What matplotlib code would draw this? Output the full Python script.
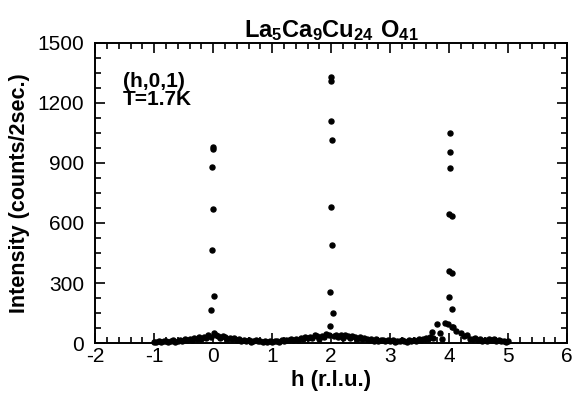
import matplotlib
matplotlib.use("Agg")
import matplotlib.pyplot as plt
from matplotlib.ticker import MultipleLocator

plt.rcParams['font.family'] = ['Liberation Sans', 'DejaVu Sans']
plt.rcParams['mathtext.fontset'] = 'custom'
plt.rcParams['mathtext.bf'] = 'Liberation Sans:bold'
plt.rcParams['mathtext.rm'] = 'Liberation Sans'
plt.rcParams['axes.unicode_minus'] = False

# --- background of the h-scan ---
bg_h = [-1.00, -0.96, -0.92, -0.88, -0.84, -0.80, -0.76, -0.72, -0.68, -0.64,
        -0.60, -0.56, -0.52, -0.48, -0.44, -0.40, -0.36, -0.32,
        -0.28, -0.24, -0.20, -0.16, -0.12, -0.08, -0.04, 0.04, 0.08, 0.12,
        0.16, 0.20, 0.24, 0.28,
        0.32, 0.36, 0.40, 0.44, 0.48, 0.52, 0.56, 0.60, 0.64, 0.68,
        0.72, 0.76, 0.80, 0.84, 0.88, 0.92, 0.96, 1.00,
        1.04, 1.08, 1.12, 1.16, 1.20, 1.24, 1.28, 1.32, 1.36, 1.40,
        1.44, 1.48, 1.52, 1.56, 1.60,
        1.64, 1.68, 1.72, 1.76, 1.80, 1.84, 1.88, 1.92, 1.96,
        2.04, 2.08, 2.12, 2.16, 2.20, 2.24, 2.28, 2.32, 2.36, 2.40,
        2.44, 2.48, 2.52, 2.56, 2.60,
        2.64, 2.68, 2.72, 2.76, 2.80, 2.84, 2.88, 2.92, 2.96, 3.00,
        3.04, 3.08, 3.12, 3.16, 3.20, 3.24, 3.28, 3.32, 3.36, 3.40,
        3.44, 3.48, 3.52, 3.56, 3.60, 3.64, 3.68, 3.72,
        3.70, 3.80, 3.84, 3.92, 3.88, 4.07, 4.12,
        4.20, 4.25, 4.30, 4.36, 4.40, 4.44, 4.48, 4.52, 4.56, 4.60,
        4.64, 4.68, 4.72, 4.76, 4.80, 4.84, 4.88, 4.92, 4.96, 5.00]
bg_i = [6, 3, 10, 5, 8, 12, 4, 9, 14, 7,
        11, 15, 9, 18, 13, 20, 16, 24,
        22, 28, 19, 32, 26, 38, 30, 42, 33, 25,
        36, 29, 21, 27,
        18, 24, 14, 20, 12, 16, 9, 13, 6, 10,
        15, 8, 12, 5, 9, 7, 11, 6,
        8, 12, 6, 14, 10, 16, 13, 18, 15, 22,
        17, 25, 20, 28, 24,
        30, 26, 40, 33, 22, 36, 28, 44, 38,
        35, 42, 30, 38, 27, 40, 33, 25, 36, 29,
        22, 31, 18, 26, 20,
        15, 22, 12, 18, 9, 14, 17, 8, 13, 10,
        16, 7, 12, 9, 15, 11, 6, 13, 10, 14,
        12, 18, 15, 22, 26, 20, 30, 24,
        55, 95, 50, 100, 20, 80, 60,
        50, 35, 40, 22, 18, 25, 15, 20, 12, 16,
        10, 22, 14, 18, 9, 13, 8, 11, 6, 9]

# --- Bragg peaks ---
peak0_h = [-0.01, -0.005, -0.015, 0.005, -0.02, 0.015, -0.03, 0.02]
peak0_i = [980, 968, 880, 668, 465, 235, 165, 50]
peak2_h = [2.00, 2.00, 2.00, 2.02, 1.99, 2.01, 1.98, 2.03, 1.98]
peak2_i = [1330, 1310, 1110, 1015, 680, 490, 255, 150, 85]
peak4_h = [4.02, 4.01, 4.02, 3.99, 4.04, 3.99, 4.04, 3.99, 4.05, 3.98, 4.05]
peak4_i = [1050, 953, 873, 645, 636, 360, 352, 230, 170, 95, 78]

h_all = bg_h + peak0_h + peak2_h + peak4_h
i_all = bg_i + peak0_i + peak2_i + peak4_i

fig = plt.figure(figsize=(5.73, 4.05), dpi=100)
ax = fig.add_axes([0.166, 0.153, 0.824, 0.741])

ax.plot(h_all, i_all, 'o', color='black', markersize=3.6, clip_on=False)

ax.set_xlim(-2, 6)
ax.set_ylim(0, 1500)
ax.xaxis.set_major_locator(MultipleLocator(1))
ax.xaxis.set_minor_locator(MultipleLocator(0.2))
ax.yaxis.set_major_locator(MultipleLocator(300))
ax.yaxis.set_minor_locator(MultipleLocator(75))
ax.tick_params(which='both', direction='in', top=True, right=True, width=1.2)
ax.tick_params(which='major', length=7, labelsize=15)
ax.tick_params(axis='y', which='major', pad=8)
ax.tick_params(axis='x', which='major', pad=3)
ax.tick_params(which='minor', length=4)
for s in ax.spines.values():
    s.set_linewidth(1.4)

ax.set_xlabel('h (r.l.u.)', fontsize=16, fontweight='bold', labelpad=3)
ax.set_ylabel('Intensity (counts/2sec.)', fontsize=15.5, fontweight='bold', labelpad=5)
ax.set_title(r'$\mathbf{La_5Ca_9Cu_{24}\ O_{41}}$', fontsize=17, pad=4)

ax.text(-1.53, 1355, '(h,0,1)\nT=1.7K', fontsize=15, fontweight='bold',
        va='top', ha='left', linespacing=0.95)

fig.savefig('out.png', dpi=100)
